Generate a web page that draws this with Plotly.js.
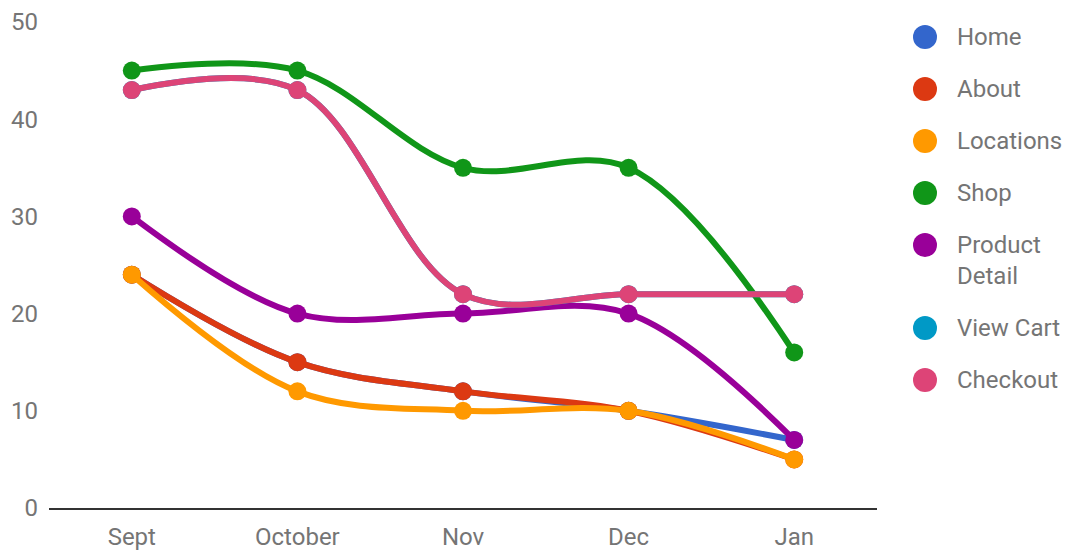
<!DOCTYPE html>
<html>
<head>
<meta charset="utf-8">
<script src="https://cdn.plot.ly/plotly-3.0.1.min.js"></script>
<style>html,body{margin:0;padding:0;background:#fff;}#chart{width:1069px;height:552px;}</style>
</head>
<body>
<div id="chart"></div>
<script>
const months = ["Sept", "October", "Nov", "Dec", "Jan"];
const seriesNames = ["Home", "About", "Locations", "Shop", "Product<br>Detail", "View Cart", "Checkout"];
const seriesColors = ["#3366cc", "#dc3912", "#ff9900", "#109618", "#990099", "#0099c6", "#dd4477"];
const home = [24, 15, 12, 10, 7];
const about = [24, 15, 12, 10, 5];
const locations = [24, 12, 10, 10, 5];
const shop = [45, 45, 35, 35, 16];
const productDetail = [30, 20, 20, 20, 7];
const viewCart = [43, 43, 22, 22, 22];
const checkout = [43, 43, 22, 22, 22];
const yTicks = [0, 10, 20, 30, 40, 50];

const allSeries = [home, about, locations, shop, productDetail, viewCart, checkout];
const font = "Roboto, Arial, sans-serif";
const textColor = "#757575";
const W = 1069, H = 552;
const M = {l: 49, r: 192, t: 22, b: 44};
const plotW = W - M.l - M.r, plotH = H - M.t - M.b;

const traces = allSeries.map((vals, i) => ({
  type: "scatter", mode: "lines+markers", x: months, y: vals,
  name: seriesNames[i].replace("<br>", " "), showlegend: false,
  line: {color: seriesColors[i], width: 6, shape: "spline", smoothing: 1},
  marker: {color: seriesColors[i], size: 18}
}));

// custom legend (big round swatches like the reference)
const shapes = [];
const annotations = [];
let py = 37;
seriesNames.forEach((nm, i) => {
  const lines = nm.split("<br>").length;
  const xp = (925 - M.l) / plotW;
  const yp = (H - M.b - py) / plotH;
  shapes.push({type: "circle", xref: "paper", yref: "paper", xsizemode: "pixel", ysizemode: "pixel",
    xanchor: xp, yanchor: yp, x0: -12, x1: 12, y0: -12, y1: 12,
    fillcolor: seriesColors[i], line: {width: 0}});
  annotations.push({xref: "paper", yref: "paper", x: (955 - M.l) / plotW,
    y: (H - M.b - (py - 16)) / plotH, xanchor: "left", yanchor: "top", align: "left",
    text: nm, showarrow: false, font: {family: font, size: 24, color: textColor}});
  py += 52 + 31 * (lines - 1);
});

const layout = {
  width: W, height: H,
  margin: M,
  paper_bgcolor: "#fff", plot_bgcolor: "#fff",
  font: {family: font, size: 24, color: textColor},
  showlegend: false,
  shapes: shapes,
  annotations: annotations,
  xaxis: {type: "category", range: [-0.5, 4.5], showgrid: false, zeroline: false,
    showline: true, linecolor: "#333", linewidth: 2, ticks: "", ticklabelstandoff: 6,
    tickfont: {family: font, size: 24, color: textColor}, fixedrange: true},
  yaxis: {range: [0, 50], tickvals: yTicks, showgrid: false, zeroline: false,
    showline: false, ticks: "", ticklabelstandoff: 10,
    tickfont: {family: font, size: 24, color: textColor}, fixedrange: true}
};
Plotly.newPlot("chart", traces, layout, {displayModeBar: false, responsive: false});
</script>
</body>
</html>
